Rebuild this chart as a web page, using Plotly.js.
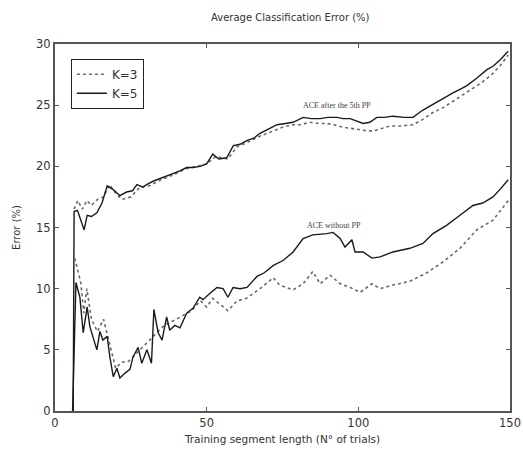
<!DOCTYPE html>
<html><head><meta charset="utf-8">
<script src="https://cdn.plot.ly/plotly-3.0.1.min.js"></script>
<style>html,body{margin:0;padding:0;background:#fff}#chart{width:523px;height:451px}</style>
</head><body><div id="chart"></div>
<script>
// ACE after the 5th PP
const upperK5_x = [6, 6.3, 7.4, 8.5, 9.6, 10.6, 12, 13.8, 15.5, 17.2, 19.2, 21.4, 23.6, 25.5, 27, 29, 30.2, 32.5, 34.6, 37, 39, 41, 43.4, 45.5, 47.8, 50, 52, 54, 56.6, 58.8, 61, 63.2, 65.5, 67.6, 70, 73.2, 76, 78.5, 81.8, 84.5, 87.4, 90, 93, 95, 97.3, 99.5, 101.6, 103.8, 106.1, 108.5, 111.4, 115, 118, 121.3, 124, 126, 128.5, 131.2, 133.5, 135.8, 139, 142.4, 144.5, 146.7, 149.4];
const upperK5_y = [0, 16.3, 16.4, 15.6, 14.8, 16.0, 15.9, 16.2, 17.0, 18.4, 18.1, 17.6, 17.9, 18.0, 18.5, 18.3, 18.5, 18.8, 19.0, 19.2, 19.4, 19.6, 19.9, 19.9, 20.0, 20.2, 21.0, 20.6, 20.7, 21.7, 21.8, 22.1, 22.3, 22.7, 23.0, 23.4, 23.5, 23.6, 24.0, 23.9, 23.9, 24.0, 24.0, 23.9, 23.9, 23.7, 23.5, 23.6, 24.0, 24.0, 24.1, 24.0, 24.0, 24.6, 25.0, 25.3, 25.6, 26.0, 26.3, 26.6, 27.2, 27.9, 28.2, 28.7, 29.4];
const upperK3_x = [6.3, 7.5, 9, 10.5, 12, 14, 16, 18, 20, 22, 25, 28, 31, 35, 39, 43, 47, 50, 53, 57, 60, 63, 67, 71, 75, 78.5, 81, 84, 87, 89.6, 92, 95, 98, 100.5, 103, 105, 108, 110.5, 114, 118, 121, 124.6, 128, 131.2, 135, 138, 141, 144.4, 147, 149.4];
const upperK3_y = [16.5, 17.2, 16.5, 17.2, 16.8, 17.3, 17.5, 18.5, 17.8, 17.3, 17.5, 18.3, 18.4, 18.9, 19.3, 19.8, 20.0, 20.2, 20.8, 20.6, 21.6, 21.9, 22.4, 22.8, 23.2, 23.4, 23.4, 23.6, 23.5, 23.5, 23.4, 23.2, 23.1, 23.0, 22.9, 22.9, 23.1, 23.3, 23.3, 23.4, 23.8, 24.4, 24.8, 25.3, 25.9, 26.4, 26.9, 27.6, 28.3, 29.1];
// ACE without PP
const lowerK5_x = [5.8, 6.9, 8.2, 9.3, 10.6, 11.5, 13.8, 14.8, 15.8, 17.2, 18.1, 19.2, 20.4, 21.4, 23.1, 24.7, 25.7, 27.4, 28.6, 30.3, 31.8, 32.6, 34, 35.3, 36.8, 37.8, 39.5, 41.2, 43.4, 45.5, 47.7, 48.8, 51, 53.4, 55.4, 57, 58.7, 61, 63.3, 66.6, 69, 72, 75.2, 78.5, 81.8, 85, 89.6, 91.7, 94, 95.6, 97.9, 98.9, 101.6, 104.5, 107.2, 111.4, 117, 121.3, 124.6, 129.2, 133.5, 137.8, 141, 144.4, 147, 149.4];
const lowerK5_y = [0, 10.5, 9.3, 6.4, 8.5, 6.9, 5.0, 6.5, 5.8, 6.1, 4.4, 2.8, 3.5, 2.7, 3.1, 3.4, 4.4, 5.2, 3.9, 5.0, 3.9, 8.3, 6.4, 5.8, 7.7, 6.6, 7.0, 6.8, 8.0, 8.4, 9.3, 9.1, 9.6, 10.1, 10.0, 9.3, 10.1, 10.0, 10.1, 11.0, 11.3, 11.9, 12.3, 13.0, 14.1, 14.4, 14.5, 14.6, 14.1, 13.4, 14.0, 13.0, 13.0, 12.5, 12.6, 13.0, 13.3, 13.7, 14.5, 15.2, 16.0, 16.8, 17.0, 17.5, 18.2, 18.9];
const lowerK3_x = [6.5, 7.5, 8.5, 9.5, 10.5, 12, 14, 16, 18, 20, 22, 24, 26, 28, 30, 32, 34, 36, 40, 45, 48, 50, 52, 55, 57, 60, 63, 67.6, 72, 74, 78.5, 81.8, 85, 87.4, 90.7, 94, 97.3, 100.6, 104.5, 107.2, 111.4, 117, 122.6, 128, 133.5, 139, 144.4, 149.4];
const lowerK3_y = [12.5, 11.5, 10.5, 8.0, 10.0, 7.5, 6.5, 7.5, 5.5, 3.5, 4.0, 4.0, 4.5, 5.0, 5.5, 6.0, 6.5, 7.0, 7.5, 8.2, 9.0, 8.5, 9.2, 8.6, 8.2, 9.0, 9.2, 10.0, 10.9, 10.3, 9.9, 10.4, 11.4, 10.4, 11.1, 10.4, 10.1, 9.7, 10.4, 10.0, 10.3, 10.6, 11.3, 12.2, 13.3, 14.8, 15.6, 17.2];

const seriesNames = ['K=3', 'K=5'];
const xTicks = [0, 50, 100, 150];
const yTicks = [0, 5, 10, 15, 20, 25, 30];
const labels = [
  {text: 'ACE after the 5th PP', x: 93, y: 25.0},
  {text: 'ACE without PP', x: 92, y: 15.2}
];

const dotStyle = {color: '#6a6a6a', width: 1.6, dash: 'dot'};
const solidStyle = {color: '#1a1a1a', width: 1.4};

const traces = [
  {x: upperK3_x, y: upperK3_y, mode: 'lines', name: seriesNames[0], line: dotStyle, legendgroup: 'k3'},
  {x: upperK5_x, y: upperK5_y, mode: 'lines', name: seriesNames[1], line: solidStyle, legendgroup: 'k5'},
  {x: lowerK3_x, y: lowerK3_y, mode: 'lines', name: seriesNames[0], line: dotStyle, legendgroup: 'k3', showlegend: false},
  {x: lowerK5_x, y: lowerK5_y, mode: 'lines', name: seriesNames[1], line: solidStyle, legendgroup: 'k5', showlegend: false}
];

const axisCommon = {
  showgrid: false, zeroline: false, showline: true, linecolor: '#555', linewidth: 2,
  mirror: 'ticks', ticks: 'inside', ticklen: 4, tickcolor: '#555',
  tickfont: {family: 'DejaVu Sans', size: 11.5, color: '#333'}
};

const layout = {
  width: 523, height: 451,
  margin: {l: 55, r: 13, t: 44, b: 40},
  paper_bgcolor: '#fff', plot_bgcolor: '#fff',
  title: {text: 'Average Classification Error (%)', x: 0.555, xanchor: 'center', y: 0.962, yanchor: 'middle',
          font: {family: 'DejaVu Sans', size: 10, color: '#333'}},
  xaxis: Object.assign({}, axisCommon, {range: [0, 150], tickvals: xTicks,
    title: {text: 'Training segment length (N° of trials)', standoff: 7, font: {family: 'DejaVu Sans', size: 10.5, color: '#333'}}}),
  yaxis: Object.assign({}, axisCommon, {range: [0, 30], tickvals: yTicks,
    title: {text: 'Error (%)', standoff: 14, font: {family: 'DejaVu Sans', size: 10, color: '#333'}}}),
  showlegend: true,
  legend: {x: 0.035, y: 0.96, xanchor: 'left', yanchor: 'top', bgcolor: '#fff', bordercolor: '#222', borderwidth: 1,
           font: {family: 'DejaVu Sans', size: 12, color: '#333'}, tracegroupgap: 0},
  annotations: labels.map(l => ({x: l.x, y: l.y, xref: 'x', yref: 'y', text: l.text, showarrow: false,
    font: {family: 'Liberation Serif', size: 8, color: '#4a3a3a'}}))
};

Plotly.newPlot('chart', traces, layout, {displayModeBar: false, staticPlot: true});
</script>
</body></html>
